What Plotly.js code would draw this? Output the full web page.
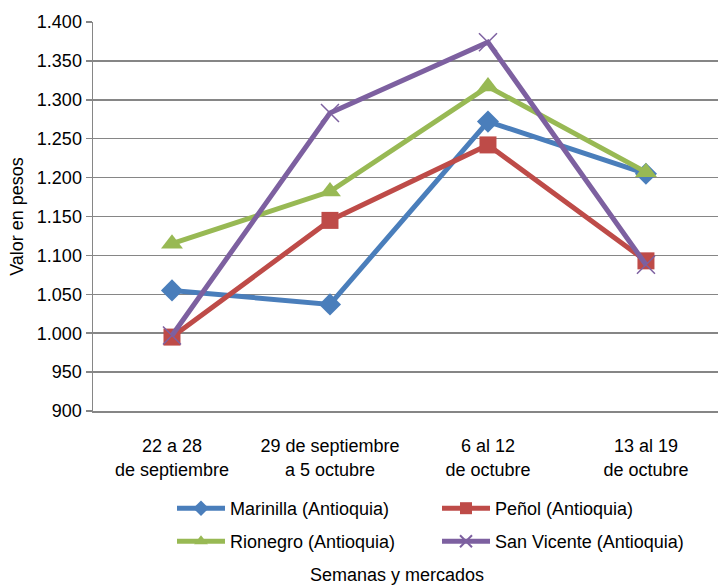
<!DOCTYPE html>
<html>
<head>
<meta charset="utf-8">
<script src="https://cdn.plot.ly/plotly-3.0.1.min.js"></script>
<style>html,body{margin:0;padding:0;background:#fff;}#chart{width:718px;height:585px;}</style>
</head>
<body>
<div id="chart"></div>
<script>
var categories = ["22 a 28<br>de septiembre", "29 de septiembre<br>a 5 octubre", "6 al 12<br>de octubre", "13 al 19<br>de octubre"];
var marinilla = [1055, 1037, 1272, 1205];
var penol = [995, 1145, 1242, 1093];
var rionegro = [1115, 1182, 1317, 1207];
var sanVicente = [997, 1283, 1374, 1088];
var seriesNames = ["Marinilla (Antioquia)", "Peñol (Antioquia)", "Rionegro (Antioquia)", "San Vicente (Antioquia)"];
var yTicks = [900, 950, 1000, 1050, 1100, 1150, 1200, 1250, 1300, 1350, 1400];
var xTitle = "Semanas y mercados";
var yTitle = "Valor en pesos";

var FONT = "Liberation Sans, Arial, sans-serif";
var xIdx = [0, 1, 2, 3];

function trace(name, y, color, symbol, msize, legend, extra) {
  var t = {
    type: "scatter", mode: "lines+markers", name: name,
    x: xIdx, y: y, legend: legend,
    line: {color: color, width: 5},
    marker: {symbol: symbol, size: msize, color: color}
  };
  if (extra) { t.marker.line = extra; }
  return t;
}

var data = [
  trace(seriesNames[0], marinilla, "#4A7EBB", "diamond", 17, "legend"),
  trace(seriesNames[1], penol, "#BE4B48", "square", 17, "legend"),
  trace(seriesNames[2], rionegro, "#98B954", "triangle-up", 19, "legend2"),
  trace(seriesNames[3], sanVicente, "#7D60A0", "x-thin-open", 18, "legend2", {color: "#7D60A0", width: 1.5})
];

var legendBase = {
  orientation: "h", xref: "container", yref: "container",
  xanchor: "left", yanchor: "top",
  font: {family: FONT, size: 18, color: "#000"},
  entrywidth: 202, entrywidthmode: "pixels",
  itemwidth: 48, itemsizing: "constant",
  bgcolor: "rgba(0,0,0,0)", borderwidth: 0
};

var layout = {
  width: 718, height: 585,
  margin: {l: 93, r: 0, t: 22, b: 174},
  paper_bgcolor: "#fff", plot_bgcolor: "#fff",
  separators: ",.",
  showlegend: true,
  font: {family: FONT, size: 18, color: "#000"},
  xaxis: {
    type: "linear",
    range: [-0.5, 3.456],
    tickmode: "array", tickvals: xIdx, ticktext: categories,
    showgrid: false, zeroline: false,
    showline: true, linecolor: "#868686", linewidth: 1.5,
    ticks: "", ticklabelstandoff: 18,
    tickfont: {family: FONT, size: 18, color: "#000"},
    automargin: false, fixedrange: true
  },
  yaxis: {
    range: [900, 1400],
    tickmode: "array", tickvals: yTicks,
    tickformat: ",d",
    showgrid: true, gridcolor: "#868686", gridwidth: 1.5,
    zeroline: false,
    showline: true, linecolor: "#868686", linewidth: 1.5,
    ticks: "outside", ticklen: 6, tickcolor: "#868686", tickwidth: 1.5,
    tickfont: {family: FONT, size: 18, color: "#000"},
    title: {text: yTitle, font: {family: FONT, size: 18, color: "#000"}, standoff: 8},
    automargin: false, fixedrange: true
  },
  annotations: [{
    text: xTitle, xref: "paper", yref: "paper",
    x: (397 - 93) / 625, y: (411 - 575) / 389,
    xanchor: "center", yanchor: "middle", showarrow: false,
    font: {family: FONT, size: 18, color: "#000"}
  }],
  legend: Object.assign({}, legendBase, {x: 172/718, y: 1 - 490/585}),
  legend2: Object.assign({}, legendBase, {x: 172/718, y: 1 - 523/585})
};

Plotly.newPlot("chart", data, layout, {displayModeBar: false, staticPlot: true});
</script>
</body>
</html>
